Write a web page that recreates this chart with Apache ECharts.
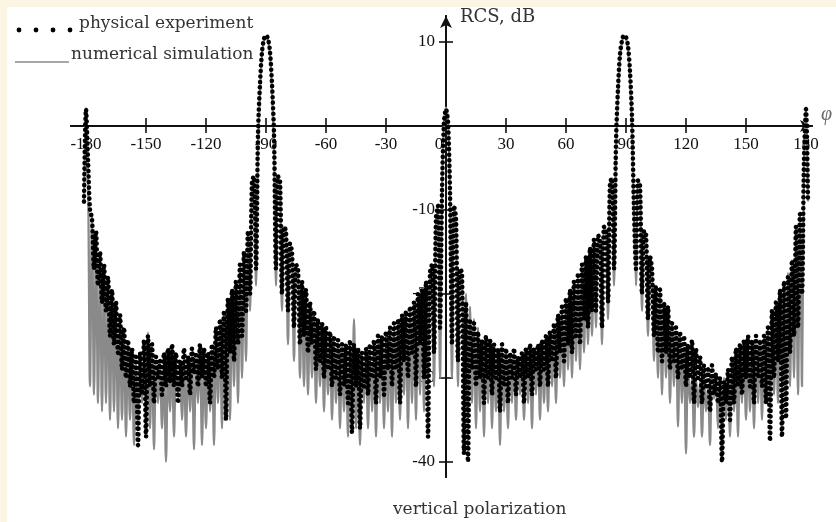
<!DOCTYPE html>
<html><head><meta charset="utf-8">
<script src="https://cdn.jsdelivr.net/npm/echarts@6/dist/echarts.min.js"></script>
<style>html,body{margin:0;padding:0;background:#fff}#c{width:836px;height:522px}</style>
</head><body><div id="c"></div>
<script>
// angle grid: 1-degree sampling starting at PHI_START
const PHI_START = -181;
const xTicks = [-180, -150, -120, -90, -60, -30, 0, 30, 60, 90, 120, 150, 180];
const yTicks = [10, -10, -20, -30, -40];
const seriesNames = ['physical experiment', 'numerical simulation'];

// numerical simulation, RCS dB, phi = -181 ... 181
const simulation = [
  -9, 2.2, -5, -31, -10.5, -32, -13, -33, -15.5, -34,
  -17, -33, -18.5, -35, -20, -34, -21.5, -36, -23, -35,
  -24.5, -37, -26, -35, -27, -38, -28.5, -36, -27.5, -33,
  -28, -35, -24.6, -36, -27, -38.5, -28.5, -33, -29, -36,
  -28.5, -40, -29, -34, -27, -37, -28.5, -32, -29.5, -35,
  -28, -37, -28.5, -34, -27.5, -38.5, -28, -33, -27, -38,
  -27.5, -36, -27.5, -34, -27, -38, -25, -33, -24, -36,
  -22.5, -32, -21.5, -35, -20.5, -31, -19.5, -33, -17.5, -30,
  -16, -28, -13, -22, -6.8, -6.2, -19, -3, 4, 8.5,
  10.2, 10.6, 10.2, 8.5, 4, -3, -19, -6.2, -6.8, -22,
  -12, -12.5, -26, -14.5, -15.5, -28, -17, -17.5, -30, -19,
  -31, -20.5, -32, -21.5, -30, -22.5, -33, -23.5, -31, -24,
  -34, -24.5, -32, -25, -35, -25.5, -33, -26, -36, -26.5,
  -34, -27, -37, -26.5, -35, -23, -36, -27, -38, -27.5,
  -33, -27, -36, -27.5, -34, -26.5, -37, -26, -33, -25.5,
  -36, -25.5, -34, -25, -37, -24.5, -33, -24, -35, -23.5,
  -32, -23, -36, -22.5, -33, -22, -35, -21, -32, -20.5,
  -34, -19.5, -31, -18, -17, -31, -12, -9.5, -30, -8,
  0.5, 2.2, 0.5, -8, -30, -9.5, -12, -31, -17.5, -18,
  -32, -20, -35, -21.5, -33, -23, -36, -24, -34, -25.5,
  -37, -25, -33, -26, -36, -26.5, -34, -27, -38, -26.5,
  -34, -27, -36, -27.5, -33, -27, -35, -28, -32, -27.5,
  -35, -27, -33, -26.5, -36, -27, -32, -26.5, -35, -26,
  -33, -25.5, -34, -25, -31, -24, -33, -23, -30, -22,
  -31, -21, -29, -20, -30, -19, -28, -18, -29, -17,
  -27, -16, -26, -15, -25, -14, -24, -13.5, -14, -26,
  -12, -12.5, -23, -6.8, -6.2, -19, -3.5, 3.5, 8, 10,
  10.6, 10.4, 9, 5.5, -0.5, -11, -19, -6.5, -7, -22,
  -12.5, -12.8, -25, -15.5, -17, -28, -19, -30, -19.5, -32,
  -21, -30, -21.5, -33, -23.5, -31, -24.5, -35.8, -25, -33,
  -26.5, -39, -28.5, -33, -30, -37, -30, -33.5, -30.5, -37,
  -30, -34, -31, -38, -30, -32.5, -30.5, -36, -31, -40,
  -30, -35, -29, -37, -27.5, -34, -26.5, -37, -26, -33,
  -27, -35, -26.5, -34, -26, -36, -26.5, -33, -25.5, -35,
  -25, -33, -24, -34, -22, -32, -21, -33, -19.5, -31,
  -18.5, -32, -17.5, -31, -16, -30, -13, -32, -10.5, -31,
  -5, 2.2, -9
];

// physical experiment, RCS dB, phi = -181 ... 181
const experiment = [
  -9, 2, -4, -10, -11, -17, -12.5, -19, -15, -21,
  -16.5, -22, -18, -25, -19.5, -26, -21, -27, -22.5, -29,
  -24, -30, -25.5, -31, -26.5, -33, -27.5, -38, -27, -32,
  -25.5, -37, -25, -31, -26, -33, -27.5, -30, -28, -32,
  -27, -31, -26.5, -30.5, -26, -31, -27, -33, -28, -31,
  -26.5, -30, -27.5, -32, -26.5, -29.5, -27, -31, -26, -30,
  -26.5, -31, -27, -33, -26, -30, -24, -29, -23, -30,
  -22, -35, -20.5, -27, -19.5, -28, -18.5, -26, -16.5, -25,
  -15, -22, -12.5, -20, -6.5, -6, -17, -1, 5, 8.8,
  10.4, 10.8, 10.4, 8.8, 5, -1, -17, -6, -6.5, -20,
  -12, -12.5, -22, -14, -15, -24, -16.5, -17, -26, -18.5,
  -25, -19.5, -27, -21, -26, -22, -29, -23, -28, -23.5,
  -30, -24, -29, -24.5, -31, -25, -30, -25.5, -32, -26,
  -31, -26, -33, -25.5, -36.5, -26, -31, -26.5, -36, -27,
  -31, -26.5, -32, -26, -30, -25.5, -33, -25, -30, -25,
  -32, -24.5, -29, -24, -31, -23.5, -29, -23, -33, -22.5,
  -28, -22, -30, -21.5, -27, -21, -31, -20, -26, -19.5,
  -30, -18.5, -37, -17.5, -16.5, -27, -11, -9.5, -24, -8,
  0.5, 2, 0.5, -8, -26, -9.5, -11, -28, -17, -17.5,
  -39, -21, -40, -23, -29, -23.5, -31, -24.5, -30, -25.5,
  -33, -25, -30, -25.5, -32, -26, -30, -26.5, -34, -26,
  -31, -26.5, -33, -27, -30, -26.5, -32, -27.5, -30, -27,
  -33, -26.5, -30, -26, -32, -26.5, -29, -26, -31, -25.5,
  -29, -25, -31, -24.5, -28, -23.5, -30, -22.5, -27, -21.5,
  -28, -20.5, -26, -19.5, -27, -18.5, -25, -17.5, -26, -16.5,
  -23, -15.5, -24, -14.5, -22, -13.5, -22, -13, -13.5, -24,
  -12, -12.5, -21, -6.8, -6.2, -17, -2, 4.5, 8.5, 10.2,
  10.8, 10.6, 9.5, 6.5, 1, -10, -17, -6.5, -7, -20,
  -12.5, -12.8, -23, -15.5, -17, -25, -19, -27, -19.5, -28,
  -21, -27, -21.5, -29, -23.5, -28, -24, -30, -24.5, -29,
  -25, -31, -26, -30, -25.5, -33, -26.5, -30, -27.5, -33,
  -28.5, -31, -29, -34, -28.5, -32, -29.5, -33, -30, -40,
  -30.5, -33, -29, -35, -27.5, -33, -26.5, -31, -26, -32,
  -25.5, -30, -25, -31, -25.5, -33, -25, -30, -25.5, -31,
  -25, -33, -24, -37.5, -22, -30, -21, -28, -19.5, -37,
  -18.5, -34.8, -18, -27, -16, -25, -12, -24, -10.5, -20,
  -4, 2, -9
];

const simPairs = simulation.map((v, i) => [PHI_START + i, v]);
const expPairs = experiment.map((v, i) => [PHI_START + i, v]);

const AX = '#111';
const tickFont = 'Liberation Serif';
const textFont = 'DejaVu Serif';

// layout: grid box and where the crossing axes sit inside it
const G = {left: 71, right: 24, top: 16, bottom: 45};
const X_MIN = -187.5, X_MAX = 183, Y_MIN = -41.8, Y_MAX = 13.1;
const W = 836 - G.left - G.right, H = 522 - G.top - G.bottom;
const yZeroPx = G.top + H * (Y_MAX - 0) / (Y_MAX - Y_MIN);      // pixel row of y = 0
const xZeroPx = G.left + W * (0 - X_MIN) / (X_MAX - X_MIN);     // pixel column of x = 0
const offBottom = -((522 - G.bottom) - yZeroPx);
const offTop = -(yZeroPx - G.top);
const offLeft = -(xZeroPx - G.left);
const offRight = -((836 - G.right) - xZeroPx);

const chart = echarts.init(document.getElementById('c'), null, {renderer: 'canvas'});
chart.setOption({
  animation: false,
  backgroundColor: '#ffffff',
  title: {
    text: 'vertical polarization', left: 393, top: 501, padding: 0,
    textStyle: {fontFamily: textFont, fontSize: 17, fontWeight: 'normal', color: '#333'}
  },
  grid: {left: G.left, right: G.right, top: G.top, bottom: G.bottom, containLabel: false, outerBoundsMode: 'none'},
  xAxis: [{
    type: 'value', min: X_MIN, max: X_MAX, position: 'bottom', offset: offBottom,
    splitLine: {show: false},
    axisLine: {onZero: false, symbol: ['none', 'arrow'], symbolSize: [9, 12],
      lineStyle: {color: AX, width: 2}},
    axisTick: {show: true, customValues: xTicks, length: 7, lineStyle: {color: AX, width: 1.6}},
    axisLabel: {customValues: xTicks, fontFamily: tickFont, fontSize: 17, color: AX, margin: 10,
      formatter: v => v === 0 ? '{z|0}' : String(v),
      rich: {z: {fontFamily: tickFont, fontSize: 17, color: AX, padding: [0, 14, 0, 0]}}},
    name: 'φ', nameLocation: 'end', nameGap: 9, nameMoveOverlap: false,
    nameTextStyle: {fontFamily: tickFont, fontStyle: 'italic', fontSize: 20, color: '#666',
      verticalAlign: 'bottom', padding: [0, 0, 1, 0]}
  }, {
    type: 'value', min: X_MIN, max: X_MAX, position: 'top', offset: offTop,
    splitLine: {show: false},
    axisLine: {onZero: false, lineStyle: {color: AX, width: 2}},
    axisTick: {show: true, customValues: xTicks, length: 8, lineStyle: {color: AX, width: 1.6}},
    axisLabel: {show: false}
  }],
  yAxis: [{
    type: 'value', min: Y_MIN, max: Y_MAX, position: 'left', offset: offLeft,
    splitLine: {show: false},
    axisLine: {onZero: false, symbol: ['none', 'arrow'], symbolSize: [9, 12],
      lineStyle: {color: AX, width: 2}},
    axisTick: {show: true, customValues: yTicks, length: 7, lineStyle: {color: AX, width: 1.6}},
    axisLabel: {customValues: yTicks, fontFamily: tickFont, fontSize: 17, color: AX, margin: 11},
    name: 'RCS, dB', nameLocation: 'end', nameGap: -1, nameMoveOverlap: false,
    nameTextStyle: {fontFamily: textFont, fontSize: 18, color: '#333', align: 'left',
      verticalAlign: 'middle', padding: [0, 0, 0, 14]}
  }, {
    type: 'value', min: Y_MIN, max: Y_MAX, position: 'right', offset: offRight,
    splitLine: {show: false},
    axisLine: {onZero: false, lineStyle: {color: AX, width: 2}},
    axisTick: {show: true, customValues: yTicks, length: 7, lineStyle: {color: AX, width: 1.6}},
    axisLabel: {show: false}
  }],
  series: [{
    name: seriesNames[0], type: 'line', xAxisIndex: 0, yAxisIndex: 0,
    data: expPairs, showSymbol: false, smooth: 0.3, z: 4,
    lineStyle: {color: '#000', width: 4.6, type: [0.01, 5.5], cap: 'round'}
  }, {
    name: seriesNames[1], type: 'line', xAxisIndex: 0, yAxisIndex: 0,
    data: simPairs, showSymbol: false, smooth: 0.3, z: 3,
    lineStyle: {color: '#8a8a8a', width: 2.3}
  }],
  graphic: [
    {type: 'rect', shape: {x: 0, y: 0, width: 836, height: 7}, style: {fill: '#fcf5e3'}, silent: true},
    {type: 'rect', shape: {x: 0, y: 0, width: 7, height: 522}, style: {fill: '#fcf5e3'}, silent: true},
    {type: 'circle', shape: {cx: 19, cy: 30, r: 2.4}, style: {fill: '#000'}},
    {type: 'circle', shape: {cx: 36, cy: 30, r: 2.4}, style: {fill: '#000'}},
    {type: 'circle', shape: {cx: 53, cy: 30, r: 2.4}, style: {fill: '#000'}},
    {type: 'circle', shape: {cx: 70, cy: 30, r: 2.4}, style: {fill: '#000'}},
    {type: 'text', x: 79, y: 24, style: {text: seriesNames[0], fill: '#333', font: '17px "DejaVu Serif"', verticalAlign: 'middle'}},
    {type: 'line', shape: {x1: 15, y1: 62, x2: 69, y2: 62}, style: {stroke: '#8a8a8a', lineWidth: 1.6}},
    {type: 'text', x: 71, y: 55, style: {text: seriesNames[1], fill: '#333', font: '17px "DejaVu Serif"', verticalAlign: 'middle'}}
  ]
});
</script>
</body></html>
